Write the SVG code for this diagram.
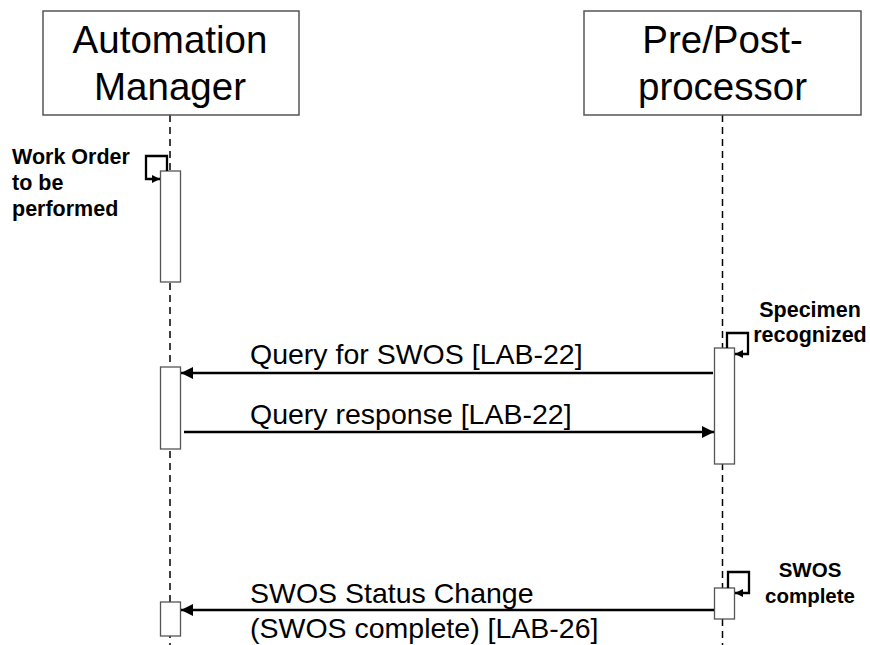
<svg xmlns="http://www.w3.org/2000/svg" width="870" height="645" viewBox="0 0 870 645">
<defs>
<style>
.box{fill:#fff;stroke:#555;stroke-width:1.5}
.title{font-family:"Liberation Sans",Arial,sans-serif;font-size:38.5px;fill:#000;text-anchor:middle}
.life{stroke:#000;stroke-width:1.5;stroke-dasharray:7 5;fill:none}
.act{fill:#fff;stroke:#555;stroke-width:1.3}
.msg{stroke:#000;stroke-width:2.5;fill:none}
.loop{stroke:#000;stroke-width:2.3;fill:none}
.mt{font-family:"Liberation Sans",Arial,sans-serif;font-size:28.5px;fill:#000}
.note{font-family:"Liberation Sans",Arial,sans-serif;font-weight:bold;fill:#000}
</style>
<marker id="ah" markerUnits="userSpaceOnUse" markerWidth="13" markerHeight="12" refX="12" refY="6" orient="auto">
<path d="M0,0 L12,6 L0,12 z" fill="#000"/>
</marker>
<marker id="ahs" markerUnits="userSpaceOnUse" markerWidth="9" markerHeight="8" refX="8" refY="4" orient="auto">
<path d="M0,0 L8,4 L0,8 z" fill="#000"/>
</marker>
</defs>
<rect width="870" height="645" fill="#fff"/>
<g id="lifelines">
<line class="life" x1="170" y1="115" x2="170" y2="645"/>
<line class="life" x1="722.5" y1="115" x2="722.5" y2="645"/>
</g>
<g id="automation-manager">
<rect class="box" x="43" y="11" width="256" height="104"/>
<text class="title" x="170" y="53">Automation</text>
<text class="title" x="170" y="100">Manager</text>
</g>
<g id="pre-post-processor">
<rect class="box" x="584" y="11" width="277" height="104"/>
<text class="title" x="722.5" y="53">Pre/Post-</text>
<text class="title" x="722.5" y="100">processor</text>
</g>
<g id="activations">
<rect class="act" x="160.5" y="171" width="20" height="111"/>
<rect class="act" x="160.5" y="367" width="20" height="82"/>
<rect class="act" x="160.5" y="602" width="20" height="34"/>
<rect class="act" x="714.5" y="348" width="20" height="116"/>
<rect class="act" x="714.5" y="588" width="20" height="31"/>
</g>
<g id="connectors">
<path class="loop" d="M167,171 V156 H146 V179 H160" marker-end="url(#ahs)"/>
<path class="loop" d="M727,348 V333 H748 V354 H735" marker-end="url(#ahs)"/>
<path class="loop" d="M728,588 V572 H749 V593 H735" marker-end="url(#ahs)"/>
<line class="msg" x1="713" y1="373" x2="181" y2="373" marker-end="url(#ah)"/>
<line class="msg" x1="184" y1="432" x2="714" y2="432" marker-end="url(#ah)"/>
<line class="msg" x1="714" y1="610" x2="181" y2="610" marker-end="url(#ah)"/>
</g>
<g id="labels">
<text class="note" font-size="21.5" x="12" y="164">Work Order</text>
<text class="note" font-size="21.5" x="12" y="190">to be</text>
<text class="note" font-size="21.5" x="12" y="216">performed</text>
<text class="note" font-size="21.5" x="810" y="317" text-anchor="middle">Specimen</text>
<text class="note" font-size="21.5" x="810" y="342" text-anchor="middle">recognized</text>
<text class="note" font-size="20.5" x="810" y="577" text-anchor="middle">SWOS</text>
<text class="note" font-size="20.5" x="810" y="603" text-anchor="middle">complete</text>
<text class="mt" x="250" y="364">Query for SWOS [LAB-22]</text>
<text class="mt" x="250" y="424">Query response [LAB-22]</text>
<text class="mt" x="250" y="603">SWOS Status Change</text>
<text class="mt" x="250" y="638">(SWOS complete) [LAB-26]</text>
</g>
</svg>
